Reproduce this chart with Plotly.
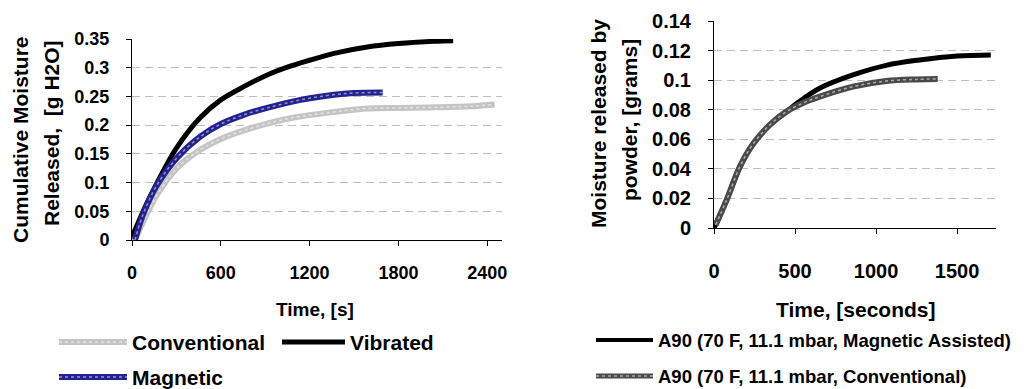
import plotly.graph_objects as go

# ---------------- Data ----------------
# Left chart
vib_t = [0, 100, 170, 300, 460, 600, 755, 910, 1050, 1200, 1365, 1590, 1800, 2040, 2170]
vib_v = [0.005, 0.064, 0.100, 0.160, 0.213, 0.244, 0.267, 0.287, 0.301, 0.313, 0.325, 0.336, 0.342, 0.346, 0.347]

mag_t = [20, 77, 167, 303, 461, 600, 755, 913, 1139, 1365, 1500, 1694]
mag_v = [0.0, 0.046, 0.095, 0.143, 0.180, 0.202, 0.218, 0.230, 0.244, 0.253, 0.256, 0.257]

conv_t = [20, 100, 167, 303, 461, 600, 822, 1048, 1365, 1591, 1800, 2043, 2300, 2450]
conv_v = [0.0, 0.045, 0.078, 0.125, 0.157, 0.176, 0.196, 0.211, 0.223, 0.229, 0.230, 0.231, 0.233, 0.236]

left_xticks = [0, 600, 1200, 1800, 2400]
left_yticks = [0, 0.05, 0.1, 0.15, 0.2, 0.25, 0.3, 0.35]
left_ytext = ["0", "0.05", "0.1", "0.15", "0.2", "0.25", "0.3", "0.35"]

# Right chart
ma_t = [0, 78, 160, 242, 344, 447, 520, 652, 857, 1062, 1267, 1500, 1708]
ma_v = [0.0, 0.019, 0.0415, 0.057, 0.0697, 0.0787, 0.0850, 0.0945, 0.1035, 0.110, 0.1136, 0.1163, 0.117]

rc_t = [10, 78, 160, 242, 344, 447, 549, 652, 857, 1062, 1250, 1380]
rc_v = [0.002, 0.019, 0.0415, 0.057, 0.0697, 0.0787, 0.0845, 0.0888, 0.0956, 0.0994, 0.1005, 0.1008]

right_xticks = [0, 500, 1000, 1500]
right_yticks = [0, 0.02, 0.04, 0.06, 0.08, 0.1, 0.12, 0.14]
right_ytext = ["0", "0.02", "0.04", "0.06", "0.08", "0.1", "0.12", "0.14"]

# ---------------- Styles ----------------
W, H = 1028, 389
FONT = "Liberation Sans"
GRAY = "#c4c4c4"
NAVY = "#23238f"
DARK = "#4a4a4a"


def fx(p):
    return p / W


def fy(p):
    return 1 - p / H


fig = go.Figure()

# Left chart traces (order: conventional, vibrated, magnetic)
fig.add_trace(go.Scatter(x=conv_t, y=conv_v, mode="lines", line=dict(color=GRAY, width=6, shape="spline"),
                         xaxis="x", yaxis="y", showlegend=False))
fig.add_trace(go.Scatter(x=conv_t, y=conv_v, mode="lines",
                         line=dict(color="rgba(255,255,255,0.55)", width=1.5, dash="dot", shape="spline"),
                         xaxis="x", yaxis="y", showlegend=False, hoverinfo="skip"))
fig.add_trace(go.Scatter(x=vib_t, y=vib_v, mode="lines", line=dict(color="black", width=5, shape="spline"),
                         xaxis="x", yaxis="y", showlegend=False))
fig.add_trace(go.Scatter(x=mag_t, y=mag_v, mode="lines", line=dict(color=NAVY, width=6, shape="spline"),
                         xaxis="x", yaxis="y", showlegend=False))
fig.add_trace(go.Scatter(x=mag_t, y=mag_v, mode="lines",
                         line=dict(color="rgba(255,255,255,0.5)", width=1.5, dash="dot", shape="spline"),
                         xaxis="x", yaxis="y", showlegend=False, hoverinfo="skip"))

# Right chart traces (order: magnetic assisted, conventional)
fig.add_trace(go.Scatter(x=ma_t, y=ma_v, mode="lines", line=dict(color="black", width=5, shape="spline"),
                         xaxis="x2", yaxis="y2", showlegend=False))
fig.add_trace(go.Scatter(x=rc_t, y=rc_v, mode="lines", line=dict(color=DARK, width=6, shape="spline"),
                         xaxis="x2", yaxis="y2", showlegend=False))
fig.add_trace(go.Scatter(x=rc_t, y=rc_v, mode="lines",
                         line=dict(color="rgba(255,255,255,0.55)", width=1.5, dash="dot", shape="spline"),
                         xaxis="x2", yaxis="y2", showlegend=False, hoverinfo="skip"))

axis_common = dict(showline=True, linecolor="black", linewidth=1, ticks="outside", ticklen=5,
                   tickcolor="black", zeroline=False, fixedrange=True, automargin=False)


def tf(size):
    return dict(family=FONT, size=size, color="black", weight="bold")


fig.update_layout(
    width=W, height=H, autosize=False,
    margin=dict(l=0, r=0, t=0, b=0, pad=0),
    paper_bgcolor="white", plot_bgcolor="white",
    font=dict(family=FONT, color="black"),
    xaxis=dict(domain=[fx(132), fx(502)], range=[0, 2500], tickvals=left_xticks,
               showgrid=False, anchor="y", tickfont=tf(18), ticklabelstandoff=11, **axis_common),
    yaxis=dict(domain=[fy(240), fy(39)], range=[0, 0.35], tickvals=left_yticks, ticktext=left_ytext,
               showgrid=True, gridcolor="#bdbdbd", griddash="8px,5px", gridwidth=1,
               anchor="x", tickfont=tf(18), ticklabelstandoff=13, **axis_common),
    xaxis2=dict(domain=[fx(714), fx(996)], range=[0, 1740], tickvals=right_xticks,
                showgrid=False, anchor="y2", tickfont=tf(20), ticklabelstandoff=20, **axis_common),
    yaxis2=dict(domain=[fy(228), fy(21)], range=[0, 0.14], tickvals=right_yticks, ticktext=right_ytext,
                showgrid=True, gridcolor="#bdbdbd", griddash="8px,5px", gridwidth=1,
                anchor="x2", tickfont=tf(20), ticklabelstandoff=13, **axis_common),
)

annotations = []
shapes = []


def text(x, y, s, size, angle=0, xanchor="center"):
    annotations.append(dict(x=fx(x), y=fy(y), xref="paper", yref="paper", text=s, showarrow=False,
                            textangle=angle, xanchor=xanchor, yanchor="middle",
                            font=tf(size)))


# Axis titles
text(20, 140, "Cumulative Moisture", 21, angle=-90)
text(52, 133, "Released,\u00a0 [g H2O]", 21, angle=-90)
text(315, 309, "Time, [s]", 19)
text(598, 124, "Moisture released by", 21, angle=-90)
text(630, 120, "powder, [grams]", 21, angle=-90)
text(856, 309, "Time, [seconds]", 21)


# Legends (drawn manually so the long line samples match)
def legend_item(x0, x1, y, color, width, label, size, dotted=False):
    shapes.append(dict(type="line", xref="paper", yref="paper", x0=fx(x0), x1=fx(x1), y0=fy(y), y1=fy(y),
                       line=dict(color=color, width=width)))
    if dotted:
        shapes.append(dict(type="line", xref="paper", yref="paper", x0=fx(x0), x1=fx(x1), y0=fy(y), y1=fy(y),
                           line=dict(color="rgba(255,255,255,0.55)", width=1.5, dash="dot")))
    text(x1 + 3, y, label, size, xanchor="left")


legend_item(59, 127, 342, GRAY, 6, "Conventional", 21, dotted=True)
legend_item(282, 345, 342, "black", 5, "Vibrated", 21)
legend_item(59, 127, 377, NAVY, 6, "Magnetic", 21, dotted=True)
legend_item(596, 653, 340, "black", 4, "A90 (70 F, 11.1 mbar, Magnetic Assisted)", 18.5)
legend_item(596, 653, 376, DARK, 5, "A90 (70 F, 11.1 mbar, Conventional)", 18.5, dotted=True)

fig.update_layout(annotations=annotations, shapes=shapes)

fig.write_html(
    "out.html",
    config={"displayModeBar": False},
    post_script="document.body.style.margin='0';document.body.style.overflow='hidden';",
)
